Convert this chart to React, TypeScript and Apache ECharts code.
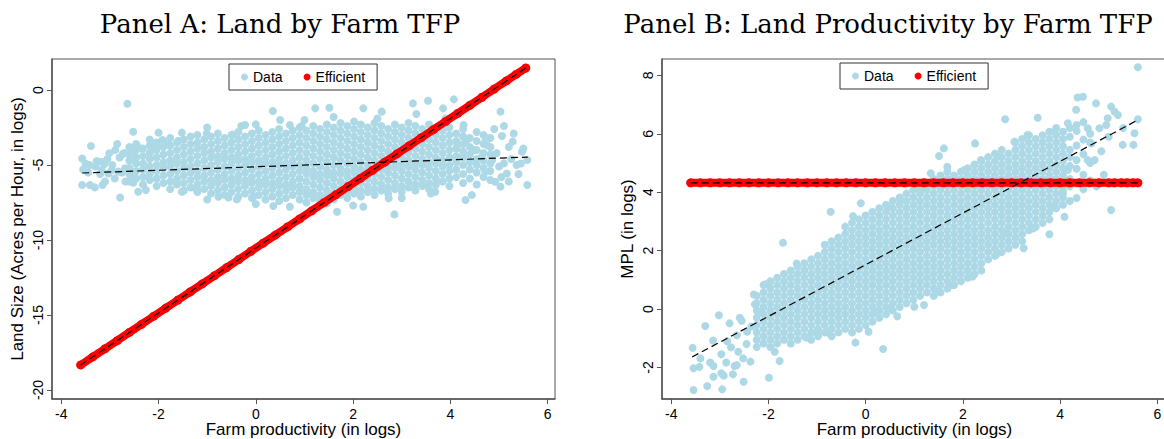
import React, { useEffect, useRef } from "react";
import * as echarts from "echarts";

// ---------- ticks & labels ----------
const xTicks = [-4, -2, 0, 2, 4, 6];
const aYTicks = [-20, -15, -10, -5, 0];
const bYTicks = [-2, 0, 2, 4, 6, 8];
const titleA = "Panel A: Land by Farm TFP";
const titleB = "Panel B: Land Productivity by Farm TFP";
const xName = "Farm productivity (in logs)";
const aYName = "Land Size (Acres per Hour, in logs)";
const bYName = "MPL (in logs)";

// ---------- Panel A: observed farms (columns of the dense core: [x, ys]) ----------
const aCloudCols: [number, number[]][] = [
  [-2.6, [-6.1, -5.6, -5.2, -4.7, -4.3, -3.8]],
  [-2.46, [-5.9, -5.4, -4.9, -4.5, -4.0, -3.6]],
  [-2.32, [-6.3, -5.8, -5.3, -4.9, -4.4, -3.9]],
  [-2.18, [-6.0, -5.6, -5.1, -4.6, -4.2, -3.7, -3.3]],
  [-2.04, [-6.4, -5.9, -5.4, -5.0, -4.5, -4.0, -3.5]],
  [-1.9, [-6.2, -5.7, -5.2, -4.8, -4.3, -3.8, -3.4]],
  [-1.76, [-6.6, -6.1, -5.6, -5.1, -4.7, -4.2, -3.7, -3.2]],
  [-1.62, [-6.3, -5.9, -5.4, -4.9, -4.5, -4.0, -3.5]],
  [-1.48, [-6.7, -6.2, -5.7, -5.2, -4.8, -4.3, -3.8, -3.3]],
  [-1.34, [-6.5, -6.0, -5.5, -5.1, -4.6, -4.1, -3.6, -3.1]],
  [-1.2, [-6.8, -6.3, -5.8, -5.4, -4.9, -4.4, -3.9, -3.5, -3.0]],
  [-1.06, [-6.6, -6.1, -5.7, -5.2, -4.7, -4.2, -3.8, -3.3]],
  [-0.92, [-6.9, -6.4, -6.0, -5.5, -5.0, -4.5, -4.1, -3.6, -3.1]],
  [-0.78, [-6.7, -6.2, -5.8, -5.3, -4.8, -4.4, -3.9, -3.4, -2.9]],
  [-0.64, [-7.0, -6.5, -6.0, -5.6, -5.1, -4.6, -4.2, -3.7, -3.2]],
  [-0.5, [-6.8, -6.3, -5.9, -5.4, -4.9, -4.5, -4.0, -3.5, -3.0]],
  [-0.36, [-7.1, -6.6, -6.1, -5.7, -5.2, -4.7, -4.3, -3.8, -3.3, -2.8]],
  [-0.22, [-6.9, -6.4, -6.0, -5.5, -5.0, -4.6, -4.1, -3.6, -3.1]],
  [-0.08, [-7.2, -6.7, -6.2, -5.8, -5.3, -4.8, -4.4, -3.9, -3.4, -2.9]],
  [0.06, [-7.0, -6.5, -6.1, -5.6, -5.1, -4.7, -4.2, -3.7, -3.2, -2.7]],
  [0.2, [-7.3, -6.8, -6.3, -5.9, -5.4, -4.9, -4.5, -4.0, -3.5, -3.0]],
  [0.34, [-7.1, -6.6, -6.2, -5.7, -5.2, -4.8, -4.3, -3.8, -3.3, -2.8]],
  [0.48, [-7.4, -6.9, -6.4, -6.0, -5.5, -5.0, -4.6, -4.1, -3.6, -3.1, -2.6]],
  [0.62, [-7.2, -6.7, -6.3, -5.8, -5.3, -4.9, -4.4, -3.9, -3.4, -2.9]],
  [0.76, [-7.0, -6.5, -6.1, -5.6, -5.1, -4.7, -4.2, -3.7, -3.2, -2.7]],
  [0.9, [-7.3, -6.8, -6.4, -5.9, -5.4, -5.0, -4.5, -4.0, -3.5, -3.0, -2.5]],
  [1.04, [-7.5, -7.0, -6.6, -6.1, -5.6, -5.2, -4.7, -4.2, -3.7, -3.2, -2.7]],
  [1.18, [-7.2, -6.8, -6.3, -5.8, -5.4, -4.9, -4.4, -3.9, -3.4, -2.9, -2.4]],
  [1.32, [-7.4, -7.0, -6.5, -6.0, -5.6, -5.1, -4.6, -4.1, -3.6, -3.1, -2.6]],
  [1.46, [-7.1, -6.7, -6.2, -5.7, -5.3, -4.8, -4.3, -3.8, -3.3, -2.8, -2.3]],
  [1.6, [-7.3, -6.9, -6.4, -5.9, -5.5, -5.0, -4.5, -4.0, -3.5, -3.0, -2.5]],
  [1.74, [-7.0, -6.6, -6.1, -5.6, -5.2, -4.7, -4.2, -3.7, -3.2, -2.7, -2.2]],
  [1.88, [-7.2, -6.8, -6.3, -5.8, -5.4, -4.9, -4.4, -3.9, -3.4, -2.9, -2.4]],
  [2.02, [-6.9, -6.5, -6.0, -5.5, -5.1, -4.6, -4.1, -3.6, -3.1, -2.6, -2.1]],
  [2.16, [-7.1, -6.7, -6.2, -5.7, -5.3, -4.8, -4.3, -3.8, -3.3, -2.8, -2.3]],
  [2.3, [-6.8, -6.4, -5.9, -5.4, -5.0, -4.5, -4.0, -3.5, -3.0, -2.5]],
  [2.44, [-7.0, -6.6, -6.1, -5.6, -5.2, -4.7, -4.2, -3.7, -3.2, -2.7, -2.2]],
  [2.58, [-6.7, -6.3, -5.8, -5.3, -4.9, -4.4, -3.9, -3.4, -2.9, -2.4]],
  [2.72, [-6.9, -6.5, -6.0, -5.5, -5.1, -4.6, -4.1, -3.6, -3.1, -2.6]],
  [2.86, [-6.6, -6.2, -5.7, -5.2, -4.8, -4.3, -3.8, -3.3, -2.8, -2.3]],
  [3.0, [-6.8, -6.4, -5.9, -5.4, -5.0, -4.5, -4.0, -3.5, -3.0, -2.5]],
  [3.14, [-6.5, -6.1, -5.6, -5.1, -4.7, -4.2, -3.7, -3.2, -2.7, -2.2]],
  [3.28, [-6.7, -6.3, -5.8, -5.3, -4.9, -4.4, -3.9, -3.4, -2.9, -2.4]],
  [3.42, [-6.4, -6.0, -5.5, -5.0, -4.6, -4.1, -3.6, -3.1, -2.6]],
  [3.56, [-6.6, -6.2, -5.7, -5.2, -4.8, -4.3, -3.8, -3.3, -2.8, -2.3]],
  [3.7, [-6.3, -5.9, -5.4, -4.9, -4.5, -4.0, -3.5, -3.0, -2.5]],
  [3.84, [-6.1, -5.6, -5.1, -4.7, -4.2, -3.7, -3.2, -2.7]],
  [3.98, [-6.4, -5.9, -5.4, -5.0, -4.5, -4.0, -3.5, -3.0, -2.5]],
  [4.12, [-5.8, -5.3, -4.8, -4.4, -3.9, -3.4, -2.9]],
  [4.26, [-6.2, -5.6, -5.0, -4.5, -4.1, -3.6, -3.1, -2.6]],
  [4.4, [-5.9, -5.3, -4.8, -4.3, -3.8, -3.2]],
  [4.54, [-6.3, -5.5, -5.0, -4.6, -4.0, -3.4, -2.8]],
  [4.68, [-5.8, -5.2, -4.7, -4.2, -3.6, -3.0]],
  [4.82, [-6.0, -5.4, -4.9, -4.3, -3.8, -3.2]],
];
// scattered farms around the edges of Panel A's cloud
const aCloudEdge: [number, number][] = [
  [-3.57, -4.56], [-3.55, -5.29], [-3.57, -6.33], [-3.41, -6.33], [-3.31, -6.49], [-3.15, -6.33],
  [-3.39, -3.73], [-3.42, -5.0], [-3.27, -4.73], [-3.17, -4.78], [-3.11, -4.93], [-3.01, -4.22],
  [-2.96, -5.33], [-2.89, -4.0], [-2.79, -7.16], [-2.74, -4.27], [-2.64, -0.91], [-2.52, -2.78],
  [-2.53, -4.04], [-2.38, -3.89], [-2.52, -6.18], [-2.42, -6.78], [-2.26, -6.67], [-2.58, -5.67],
  [-2.69, -5.22], [-2.83, -5.44], [-3.03, -5.56], [-3.17, -5.33], [-2.0, -2.84], [-1.52, -2.84],
  [-1.92, -3.33], [-1.78, -3.67], [-1.59, -3.38], [-2.04, -3.67], [-2.14, -4.0], [-1.52, -6.78],
  [-1.21, -6.67], [-0.77, -7.11], [-0.56, -7.16], [-0.39, -7.29], [-0.48, -2.96], [-1.01, -2.89],
  [-0.22, -2.33], [0.0, -2.29], [0.35, -1.4], [0.7, -2.33], [0.94, -2.4], [0.36, -7.73],
  [0.7, -7.78], [-0.05, -7.11], [-3.3, -5.1], [-3.2, -5.6], [-3.05, -4.6], [-2.95, -5.0],
  [-2.9, -5.9], [-2.8, -4.5], [-2.75, -5.5], [-2.7, -4.2], [-2.68, -6.1], [-3.45, -5.5],
  [-3.5, -4.9], [-2.85, -3.6], [-3.1, -6.1],
  [1.22, -1.22], [1.51, -1.18], [2.21, -1.22], [2.59, -1.44], [3.23, -0.89], [3.54, -0.71],
  [4.07, -0.62], [3.85, -1.22], [5.03, -1.44], [4.27, -2.33], [4.72, -3.16], [5.06, -3.07],
  [5.28, -3.44], [5.58, -4.67], [5.47, -4.11], [5.36, -5.0], [5.58, -6.33], [5.03, -6.44],
  [4.72, -5.44], [4.92, -6.11], [4.31, -7.33], [4.44, -7.0], [3.69, -6.78], [2.85, -8.29],
  [2.73, -7.22], [2.21, -7.78], [1.67, -8.11], [1.46, -7.56], [4.48, -4.0], [4.65, -4.44],
  [4.75, -3.67], [5.1, -4.89], [4.86, -4.67], [5.16, -5.56], [4.34, -3.33], [4.14, -3.67],
  [4.95, -4.2], [5.0, -5.1], [5.2, -3.8], [5.25, -4.6], [5.4, -5.6], [5.5, -3.9], [4.9, -2.6],
  [5.1, -2.4], [5.3, -2.9], [5.45, -4.9], [5.05, -5.8], [5.2, -6.1],
  [-1.0, -2.5], [0.5, -2.0], [1.6, -1.8], [2.5, -1.9], [3.3, -1.6], [3.9, -1.9], [-0.3, -2.4],
  [1.0, -2.0], [0.0, -7.6], [1.2, -7.9], [2.0, -7.7], [3.0, -7.2], [3.6, -6.9], [-1.0, -7.3],
];
// Panel A: efficient allocation
const aEffX = [-3.6, -3.35, -3.1, -2.85, -2.6, -2.35, -2.1, -1.85, -1.6, -1.35, -1.1, -0.85, -0.6, -0.35, -0.1, 0.15, 0.4, 0.65, 0.9, 1.15, 1.4, 1.65, 1.9, 2.15, 2.4, 2.65, 2.9, 3.15, 3.4, 3.65, 3.9, 4.15, 4.4, 4.65, 4.9, 5.15, 5.35, 5.55];
const aEffY = [-18.33, -17.79, -17.25, -16.71, -16.16, -15.62, -15.08, -14.54, -14.0, -13.46, -12.92, -12.38, -11.84, -11.3, -10.75, -10.21, -9.67, -9.13, -8.59, -8.05, -7.51, -6.97, -6.43, -5.89, -5.35, -4.81, -4.26, -3.72, -3.18, -2.64, -2.1, -1.56, -1.02, -0.48, 0.07, 0.61, 1.04, 1.47];
// Panel A: fitted lines (end points)
const aFitDataX = [-3.57, 5.59];
const aFitDataY = [-5.53, -4.47];
const aFitEffX = [-3.6, 5.55];
const aFitEffY = [-18.33, 1.47];

// ---------- Panel B: observed farms ----------
const bCloudCols: [number, number[]][] = [
  [-2.24, [-1.3, -1.05, -0.8, -0.55, -0.3, -0.05, 0.2, 0.45]],
  [-2.1, [-1.18, -0.93, -0.68, -0.43, -0.18, 0.07, 0.32, 0.57, 0.82]],
  [-1.96, [-1.3, -1.05, -0.8, -0.55, -0.3, -0.05, 0.2, 0.45, 0.7, 0.95]],
  [-1.82, [-1.18, -0.93, -0.68, -0.43, -0.18, 0.07, 0.32, 0.57, 0.82, 1.07]],
  [-1.68, [-1.05, -0.8, -0.55, -0.3, -0.05, 0.2, 0.45, 0.7, 0.95, 1.2]],
  [-1.54, [-1.18, -0.93, -0.68, -0.43, -0.18, 0.07, 0.32, 0.57, 0.82, 1.07, 1.32]],
  [-1.4, [-1.05, -0.8, -0.55, -0.3, -0.05, 0.2, 0.45, 0.7, 0.95, 1.2, 1.45]],
  [-1.26, [-0.93, -0.68, -0.43, -0.18, 0.07, 0.32, 0.57, 0.82, 1.07, 1.32, 1.57]],
  [-1.12, [-1.05, -0.8, -0.55, -0.3, -0.05, 0.2, 0.45, 0.7, 0.95, 1.2, 1.45, 1.7]],
  [-0.98, [-0.93, -0.68, -0.43, -0.18, 0.07, 0.32, 0.57, 0.82, 1.07, 1.32, 1.57, 1.82]],
  [-0.84, [-0.8, -0.55, -0.3, -0.05, 0.2, 0.45, 0.7, 0.95, 1.2, 1.45, 1.7, 1.95, 2.2]],
  [-0.7, [-0.93, -0.68, -0.43, -0.18, 0.07, 0.32, 0.57, 0.82, 1.07, 1.32, 1.57, 1.82, 2.07, 2.32]],
  [-0.56, [-0.8, -0.55, -0.3, -0.05, 0.2, 0.45, 0.7, 0.95, 1.2, 1.45, 1.7, 1.95, 2.2, 2.45]],
  [-0.42, [-0.68, -0.43, -0.18, 0.07, 0.32, 0.57, 0.82, 1.07, 1.32, 1.57, 1.82, 2.07, 2.32, 2.57, 2.82]],
  [-0.28, [-0.8, -0.55, -0.3, -0.05, 0.2, 0.45, 0.7, 0.95, 1.2, 1.45, 1.7, 1.95, 2.2, 2.45, 2.7, 2.95]],
  [-0.14, [-0.68, -0.43, -0.18, 0.07, 0.32, 0.57, 0.82, 1.07, 1.32, 1.57, 1.82, 2.07, 2.32, 2.57, 2.82, 3.07]],
  [0.0, [-0.55, -0.3, -0.05, 0.2, 0.45, 0.7, 0.95, 1.2, 1.45, 1.7, 1.95, 2.2, 2.45, 2.7, 2.95, 3.2]],
  [0.14, [-0.43, -0.18, 0.07, 0.32, 0.57, 0.82, 1.07, 1.32, 1.57, 1.82, 2.07, 2.32, 2.57, 2.82, 3.07, 3.32]],
  [0.28, [-0.3, -0.05, 0.2, 0.45, 0.7, 0.95, 1.2, 1.45, 1.7, 1.95, 2.2, 2.45, 2.7, 2.95, 3.2, 3.45]],
  [0.42, [-0.18, 0.07, 0.32, 0.57, 0.82, 1.07, 1.32, 1.57, 1.82, 2.07, 2.32, 2.57, 2.82, 3.07, 3.32, 3.57]],
  [0.56, [-0.05, 0.2, 0.45, 0.7, 0.95, 1.2, 1.45, 1.7, 1.95, 2.2, 2.45, 2.7, 2.95, 3.2, 3.45, 3.7]],
  [0.7, [0.07, 0.32, 0.57, 0.82, 1.07, 1.32, 1.57, 1.82, 2.07, 2.32, 2.57, 2.82, 3.07, 3.32, 3.57, 3.82]],
  [0.84, [0.2, 0.45, 0.7, 0.95, 1.2, 1.45, 1.7, 1.95, 2.2, 2.45, 2.7, 2.95, 3.2, 3.45, 3.7, 3.95]],
  [0.98, [0.32, 0.57, 0.82, 1.07, 1.32, 1.57, 1.82, 2.07, 2.32, 2.57, 2.82, 3.07, 3.32, 3.57, 3.82, 4.07]],
  [1.12, [0.45, 0.7, 0.95, 1.2, 1.45, 1.7, 1.95, 2.2, 2.45, 2.7, 2.95, 3.2, 3.45, 3.7, 3.95, 4.2]],
  [1.26, [0.57, 0.82, 1.07, 1.32, 1.57, 1.82, 2.07, 2.32, 2.57, 2.82, 3.07, 3.32, 3.57, 3.82, 4.07, 4.32]],
  [1.4, [0.45, 0.7, 0.95, 1.2, 1.45, 1.7, 1.95, 2.2, 2.45, 2.7, 2.95, 3.2, 3.45, 3.7, 3.95, 4.2, 4.45]],
  [1.54, [0.57, 0.82, 1.07, 1.32, 1.57, 1.82, 2.07, 2.32, 2.57, 2.82, 3.07, 3.32, 3.57, 3.82, 4.07, 4.32, 4.57]],
  [1.68, [0.7, 0.95, 1.2, 1.45, 1.7, 1.95, 2.2, 2.45, 2.7, 2.95, 3.2, 3.45, 3.7, 3.95, 4.2, 4.45, 4.7]],
  [1.82, [0.82, 1.07, 1.32, 1.57, 1.82, 2.07, 2.32, 2.57, 2.82, 3.07, 3.32, 3.57, 3.82, 4.07, 4.32, 4.57]],
  [1.96, [0.95, 1.2, 1.45, 1.7, 1.95, 2.2, 2.45, 2.7, 2.95, 3.2, 3.45, 3.7, 3.95, 4.2, 4.45, 4.7]],
  [2.1, [1.07, 1.32, 1.57, 1.82, 2.07, 2.32, 2.57, 2.82, 3.07, 3.32, 3.57, 3.82, 4.07, 4.32, 4.57, 4.82]],
  [2.24, [1.2, 1.45, 1.7, 1.95, 2.2, 2.45, 2.7, 2.95, 3.2, 3.45, 3.7, 3.95, 4.2, 4.45, 4.7, 4.95]],
  [2.38, [1.32, 1.57, 1.82, 2.07, 2.32, 2.57, 2.82, 3.07, 3.32, 3.57, 3.82, 4.07, 4.32, 4.57, 4.82, 5.07]],
  [2.52, [1.7, 1.95, 2.2, 2.45, 2.7, 2.95, 3.2, 3.45, 3.7, 3.95, 4.2, 4.45, 4.7, 4.95, 5.2]],
  [2.66, [1.82, 2.07, 2.32, 2.57, 2.82, 3.07, 3.32, 3.57, 3.82, 4.07, 4.32, 4.57, 4.82, 5.07, 5.32]],
  [2.8, [1.95, 2.2, 2.45, 2.7, 2.95, 3.2, 3.45, 3.7, 3.95, 4.2, 4.45, 4.7, 4.95, 5.2, 5.45]],
  [2.94, [2.07, 2.32, 2.57, 2.82, 3.07, 3.32, 3.57, 3.82, 4.07, 4.32, 4.57, 4.82, 5.07, 5.32]],
  [3.08, [2.2, 2.45, 2.7, 2.95, 3.2, 3.45, 3.7, 3.95, 4.2, 4.45, 4.7, 4.95, 5.2, 5.45, 5.7]],
  [3.22, [2.32, 2.57, 2.82, 3.07, 3.32, 3.57, 3.82, 4.07, 4.32, 4.57, 4.82, 5.07, 5.32, 5.57, 5.82]],
  [3.36, [2.7, 2.95, 3.2, 3.45, 3.7, 3.95, 4.2, 4.45, 4.7, 4.95, 5.2, 5.45, 5.7, 5.95]],
  [3.5, [2.82, 3.07, 3.32, 3.57, 3.82, 4.07, 4.32, 4.57, 4.82, 5.07, 5.32, 5.57, 5.82]],
  [3.64, [2.95, 3.2, 3.45, 3.7, 3.95, 4.2, 4.45, 4.7, 4.95, 5.2, 5.45, 5.7, 5.95]],
  [3.78, [3.07, 3.32, 3.57, 3.82, 4.07, 4.32, 4.57, 4.82, 5.07, 5.32, 5.57, 5.82, 6.07]],
  [3.92, [3.45, 3.7, 3.95, 4.2, 4.45, 4.7, 4.95, 5.2, 5.45, 5.7, 5.95, 6.2]],
  [4.06, [3.57, 3.82, 4.07, 4.32, 4.57, 4.82, 5.07, 5.32, 5.57, 5.82, 6.07]],
  [4.2, [3.7, 4.2, 4.45, 4.9, 5.2, 5.45, 5.9, 6.2]],
  [4.34, [3.8, 4.3, 4.8, 5.1, 5.6, 6.1, 6.3]],
  [4.48, [4.1, 4.6, 5.3, 5.8, 6.4]],
  [4.62, [4.4, 5.0, 5.7, 6.0]],
];
const bCloudEdge: [number, number][] = [
  [-3.56, -1.33], [-3.54, -2.03], [-3.54, -2.77], [-3.4, -1.69], [-3.42, -1.98], [-3.3, -0.58],
  [-3.26, -2.64], [-3.2, -1.83], [-3.14, -1.08], [-3.13, -2.32], [-3.13, -1.95], [-3.02, -0.21],
  [-2.97, -1.55], [-2.95, -2.75], [-2.97, -2.2], [-2.92, -2.28], [-2.87, -1.83], [-2.8, -0.49],
  [-2.77, -1.31], [-2.73, -2.23], [-2.7, -1.95], [-2.65, -1.92], [-2.62, -1.46], [-2.59, -0.3],
  [-2.52, -1.69], [-2.51, -2.49], [-2.37, -1.8], [-2.44, -0.78], [-2.28, 0.16], [-2.16, -0.09],
  [-2.06, 0.85], [-1.99, -2.35], [-1.87, -1.46], [-1.77, -1.78], [-1.7, 2.27], [-1.42, 1.56],
  [-1.22, -0.98], [-1.0, -0.81], [-0.79, -0.8], [-0.72, 3.33], [-0.21, -1.15], [0.06, -0.78],
  [0.36, -1.37], [0.65, -0.25], [0.52, 0.0], [0.24, -0.08], [-0.1, 3.62], [-0.26, 3.18],
  [-2.45, -1.2], [-2.35, -0.6], [-2.3, 0.5], [-2.55, -0.4], [-2.85, -1.1], [-2.65, -0.9],
  [5.6, 8.28], [5.6, 6.5], [5.53, 6.02], [5.51, 5.62], [5.05, 3.39], [4.36, 7.24], [4.47, 7.27],
  [4.74, 7.04], [4.33, 6.82], [5.05, 6.93], [5.12, 6.76], [5.19, 6.64], [4.98, 6.53], [3.54, 6.55],
  [2.87, 6.5], [2.25, 5.67], [1.61, 5.5], [1.51, 5.24], [3.78, 2.56], [3.25, 2.08], [4.09, 3.16],
  [4.57, 6.19], [4.81, 6.19], [4.64, 5.67], [5.29, 5.62], [4.71, 5.1], [4.57, 5.1], [4.16, 4.76],
  [4.06, 3.96], [3.88, 3.5], [3.44, 2.76], [2.92, 2.59], [2.68, 1.85], [2.2, 1.11], [1.75, 0.82],
  [1.51, 0.59], [1.2, 0.14], [1.0, 0.08], [3.33, 5.96], [3.88, 6.07], [4.16, 6.36], [3.06, 5.73],
  [2.72, 5.22], [2.37, 5.1], [2.03, 4.76], [1.68, 4.87], [1.34, 4.65], [1.13, 4.08], [0.72, 3.73],
  [0.45, 3.5], [4.9, 4.6], [4.85, 5.4], [5.0, 5.9], [4.75, 4.2], [4.95, 6.3], [5.3, 6.2],
];
// Panel B: efficient allocation
const bEffX = [-3.6, -3.4, -3.2, -3.0, -2.8, -2.6, -2.4, -2.2, -2.0, -1.8, -1.6, -1.4, -1.2, -1.0, -0.8, -0.6, -0.4, -0.2, 0.0, 0.2, 0.4, 0.6, 0.8, 1.0, 1.2, 1.4, 1.6, 1.8, 2.0, 2.2, 2.4, 2.6, 2.8, 3.0, 3.2, 3.4, 3.6, 3.8, 4.0, 4.2, 4.4, 4.6, 4.8, 5.0, 5.12, 5.26, 5.38, 5.5, 5.6];
const bEffY = [4.32, 4.32, 4.32, 4.32, 4.32, 4.32, 4.32, 4.32, 4.32, 4.32, 4.32, 4.32, 4.32, 4.32, 4.32, 4.32, 4.32, 4.32, 4.32, 4.32, 4.32, 4.32, 4.32, 4.32, 4.32, 4.32, 4.32, 4.32, 4.32, 4.32, 4.32, 4.32, 4.32, 4.32, 4.32, 4.32, 4.32, 4.32, 4.32, 4.32, 4.32, 4.32, 4.32, 4.32, 4.32, 4.32, 4.32, 4.32, 4.32];
const bFitDataX = [-3.57, 5.6];
const bFitDataY = [-1.64, 6.47];
const bFitEffX = [-3.6, 5.6];
const bFitEffY = [4.32, 4.32];

// ---------- helpers ----------
const flatten = (cols: [number, number[]][], edge: [number, number][]) => {
  const pts: [number, number][] = [];
  cols.forEach(([x, ys]) => ys.forEach((y) => pts.push([x, y])));
  return pts.concat(edge);
};
const zip = (xs: number[], ys: number[]) => xs.map((x, i) => [x, ys[i]]);

const SANS = "'Liberation Sans', Arial, sans-serif";
const SERIF = "'DejaVu Serif', serif";
const LIGHT = "#ADD8E6";
const RED = "#FF0000";
const AXIS = "#555";

function makeX(gridIndex: number, min: number, max: number) {
  return {
    type: "value", gridIndex, min, max,
    name: xName, nameLocation: "middle", nameGap: 22, nameMoveOverlap: false,
    nameTextStyle: { fontSize: 17, color: "#000", fontFamily: SANS, verticalAlign: "top", lineHeight: 17 },
    axisLine: { show: true, onZero: false, lineStyle: { color: AXIS, width: 1.5 } },
    axisTick: { show: true, length: 5, customValues: xTicks, lineStyle: { color: AXIS, width: 1 } },
    axisLabel: { customValues: xTicks, margin: 8, fontSize: 14, color: "#000", fontFamily: SANS },
    splitLine: { show: false },
  };
}
function makeY(gridIndex: number, min: number, max: number, ticks: number[], name: string) {
  return {
    type: "value", gridIndex, min, max,
    name, nameLocation: "middle", nameGap: 26, nameMoveOverlap: false,
    nameTextStyle: { fontSize: 17, color: "#000", fontFamily: SANS },
    axisLine: { show: true, onZero: false, lineStyle: { color: AXIS, width: 1.5 } },
    axisTick: { show: true, length: 5, customValues: ticks, lineStyle: { color: AXIS, width: 1 } },
    axisLabel: { customValues: ticks, rotate: 90, margin: 7, fontSize: 14, color: "#000", fontFamily: SANS },
    splitLine: { show: false },
  };
}
function makeLegend(left: number, top: number) {
  return {
    left, top, orient: "horizontal", selectedMode: false,
    data: [{ name: "Data", icon: "circle" }, { name: "Efficient", icon: "circle" }],
    itemWidth: 7, itemHeight: 7, itemGap: 21,
    padding: [6, 12, 6, 12], borderColor: "#333", borderWidth: 1, backgroundColor: "#fff",
    textStyle: { fontSize: 14, color: "#000", fontFamily: SANS },
  };
}
function panelSeries(idx: number, cloud: [number, number][], effX: number[], effY: number[], fitDX: number[], fitDY: number[], fitEX: number[], fitEY: number[]) {
  const eff = zip(effX, effY);
  return [
    { name: "Data", type: "scatter", xAxisIndex: idx, yAxisIndex: idx, data: cloud, symbol: "circle", symbolSize: 8, itemStyle: { color: LIGHT, opacity: 1 }, z: 2, silent: true },
    { name: "EffBand" + idx, type: "line", xAxisIndex: idx, yAxisIndex: idx, data: eff, showSymbol: false, symbol: "none", lineStyle: { color: RED, width: 8, cap: "round" }, z: 3, silent: true },
    { name: "Efficient", type: "scatter", xAxisIndex: idx, yAxisIndex: idx, data: eff, symbol: "circle", symbolSize: 9, itemStyle: { color: RED, opacity: 1 }, z: 4, silent: true },
    { name: "FitData" + idx, type: "line", xAxisIndex: idx, yAxisIndex: idx, data: zip(fitDX, fitDY), showSymbol: false, symbol: "none", lineStyle: { color: "#000", width: 1.2, type: [7, 4] }, z: 5, silent: true },
    { name: "FitEff" + idx, type: "line", xAxisIndex: idx, yAxisIndex: idx, data: zip(fitEX, fitEY), showSymbol: false, symbol: "none", lineStyle: { color: "#000", width: 1.2, type: [7, 4] }, z: 5, silent: true },
  ];
}

export default function App() {
  const ref = useRef<HTMLDivElement>(null);
  useEffect(() => {
    if (!ref.current) return;
    const chart = echarts.init(ref.current, null, { renderer: "svg" });
    const gridCommon = { show: true, borderColor: AXIS, borderWidth: 1, backgroundColor: "#fff", containLabel: false, outerBoundsMode: "none" };
    const option: any = {
      animation: false,
      backgroundColor: "#fff",
      graphic: [
        { type: "text", x: 280, y: 24, style: { text: titleA, fontSize: 26, fontFamily: SERIF, fill: "#000", align: "center", verticalAlign: "middle" } },
        { type: "text", x: 888, y: 24, style: { text: titleB, fontSize: 26, fontFamily: SERIF, fill: "#000", align: "center", verticalAlign: "middle" } },
      ],
      legend: [makeLegend(229, 64), makeLegend(840, 63)],
      grid: [
        { ...gridCommon, left: 52, top: 59, width: 503, height: 340 },
        { ...gridCommon, left: 662, top: 59, width: 505, height: 340 },
      ],
      xAxis: [makeX(0, -4.19, 6.15), makeX(1, -4.19, 6.2)],
      yAxis: [makeY(0, -20.6, 2.07, aYTicks, aYName), makeY(1, -3.08, 8.56, bYTicks, bYName)],
      series: [
        ...panelSeries(0, flatten(aCloudCols, aCloudEdge), aEffX, aEffY, aFitDataX, aFitDataY, aFitEffX, aFitEffY),
        ...panelSeries(1, flatten(bCloudCols, bCloudEdge), bEffX, bEffY, bFitDataX, bFitDataY, bFitEffX, bFitEffY),
      ],
    };
    chart.setOption(option);
    return () => chart.dispose();
  }, []);
  return <div ref={ref} style={{ position: "fixed", left: 0, top: 0, width: 1164, height: 439, background: "#fff" }} />;
}
